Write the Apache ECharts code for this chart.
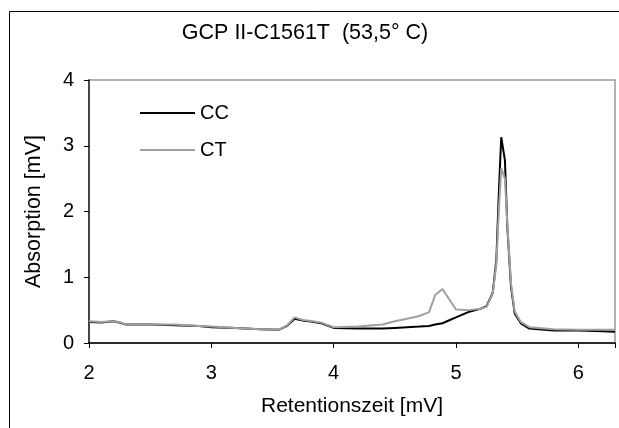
<!DOCTYPE html>
<html>
<head>
<meta charset="utf-8">
<script src="https://cdn.jsdelivr.net/npm/echarts@6/dist/echarts.min.js"></script>
<style>
  html, body { margin: 0; padding: 0; background: #fff; }
  #chart { width: 619px; height: 428px; }
</style>
</head>
<body>
<div id="chart"></div>
<script>
// retention time (x) and absorption readings for the two genotypes
const times = [2.0, 2.1, 2.2, 2.25, 2.3, 2.5, 2.7, 2.9, 3.0, 3.2, 3.4, 3.55, 3.62, 3.68, 3.75, 3.8, 3.9,
  4.0, 4.2, 4.4, 4.5, 4.6, 4.7, 4.78, 4.83, 4.89, 4.95, 5.0, 5.1, 5.2, 5.25, 5.3, 5.33, 5.35, 5.37,
  5.4, 5.42, 5.45, 5.48, 5.53, 5.6, 5.8, 6.0, 6.2, 6.3];
const ccValues = [0.32, 0.31, 0.33, 0.31, 0.28, 0.28, 0.27, 0.26, 0.24, 0.23, 0.21, 0.20, 0.26, 0.37, 0.34, 0.33, 0.30,
  0.23, 0.22, 0.22, 0.23, 0.24, 0.25, 0.26, 0.28, 0.30, 0.35, 0.39, 0.47, 0.52, 0.56, 0.76, 1.26, 2.27, 3.13,
  2.78, 1.76, 0.85, 0.45, 0.30, 0.22, 0.19, 0.19, 0.18, 0.17];
const ctValues = [0.33, 0.32, 0.33, 0.32, 0.28, 0.28, 0.28, 0.26, 0.25, 0.23, 0.21, 0.20, 0.27, 0.39, 0.35, 0.34, 0.31,
  0.24, 0.25, 0.28, 0.33, 0.37, 0.41, 0.47, 0.73, 0.82, 0.65, 0.51, 0.50, 0.52, 0.55, 0.75, 1.20, 2.00, 2.66,
  2.50, 1.80, 0.90, 0.48, 0.32, 0.24, 0.21, 0.20, 0.20, 0.20];
const seriesNames = ['CC', 'CT'];

const pairs = (vals) => times.map((t, i) => [t, vals[i]]);
const font = 'Liberation Sans, Arial, sans-serif';

let chart = echarts.init(document.getElementById('chart'));
chart.setOption({
  animation: false,
  title: {
    text: 'GCP II-C1561T  (53,5° C)',
    left: 300,
    textAlign: 'center',
    top: 17,
    textStyle: { fontFamily: font, fontSize: 21.5, fontWeight: 'normal', color: '#000' }
  },
  graphic: [{
    type: 'rect',
    shape: { x: 9.5, y: 11.5, width: 700, height: 500 },
    style: { fill: 'none', stroke: '#000', lineWidth: 1 }
  }],
  legend: {
    data: seriesNames,
    orient: 'vertical',
    left: 135,
    top: 98,
    itemWidth: 55,
    itemHeight: 2,
    itemGap: 17,
    icon: 'rect',
    textStyle: { fontFamily: font, fontSize: 20, color: '#000' }
  },
  grid: {
    left: 89, right: 4, top: 80, bottom: 85,
    show: true, borderColor: '#999', borderWidth: 1.5, backgroundColor: '#fff'
  },
  xAxis: {
    type: 'value',
    min: 2, max: 6.3, interval: 1,
    name: 'Retentionszeit [mV]',
    nameLocation: 'middle',
    nameGap: 53,
    nameTextStyle: { fontFamily: font, fontSize: 21, color: '#000' },
    axisLine: { lineStyle: { color: '#000', width: 1.5 } },
    axisTick: { lineStyle: { color: '#000' }, length: 5 },
    axisLabel: {
      fontFamily: font, fontSize: 20, color: '#000', margin: 20,
      formatter: (v) => (Number.isInteger(v) ? String(v) : '')
    },
    splitLine: { show: false }
  },
  yAxis: {
    type: 'value',
    min: 0, max: 4, interval: 1,
    name: 'Absorption [mV]',
    nameLocation: 'middle',
    nameGap: 44,
    nameTextStyle: { fontFamily: font, fontSize: 21.5, color: '#000' },
    axisLine: { show: true, lineStyle: { color: '#222', width: 1.5 } },
    axisTick: { show: true, lineStyle: { color: '#000' }, length: 5 },
    axisLabel: { fontFamily: font, fontSize: 20, color: '#000', margin: 15 },
    splitLine: { show: false }
  },
  series: [
    {
      name: 'CC', type: 'line', data: pairs(ccValues), showSymbol: false, symbol: 'none',
      lineStyle: { color: '#000', width: 2 }, itemStyle: { color: '#000' }, z: 2
    },
    {
      name: 'CT', type: 'line', data: pairs(ctValues), showSymbol: false, symbol: 'none',
      lineStyle: { color: '#a0a0a0', width: 2 }, itemStyle: { color: '#a0a0a0' }, z: 3
    }
  ]
});
</script>
</body>
</html>
